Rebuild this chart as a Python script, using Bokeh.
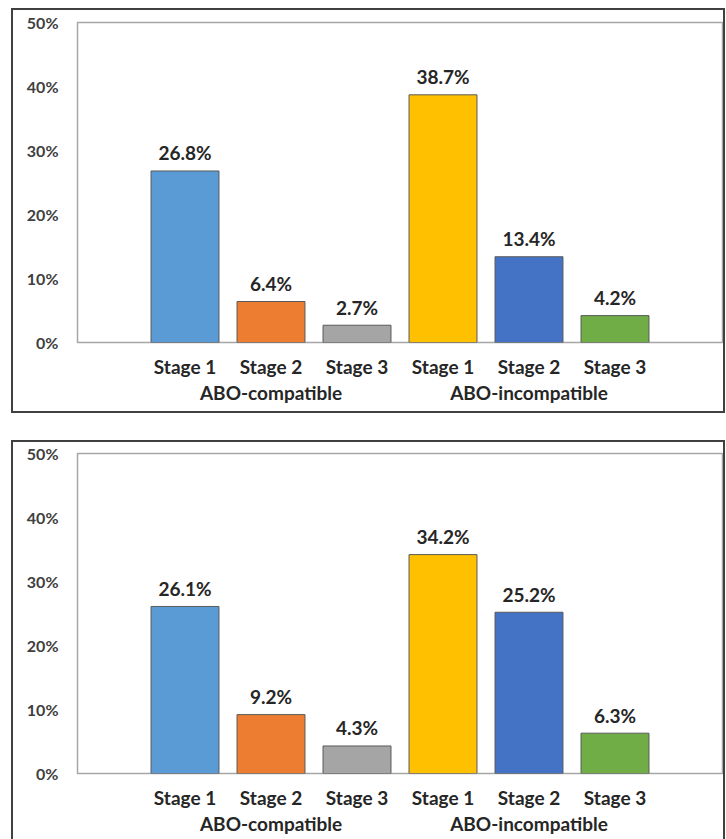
from bokeh.plotting import figure
from bokeh.models import (ColumnDataSource, FactorRange, Range1d, FixedTicker,
                          NumeralTickFormatter, CategoricalAxis, CategoricalScale,
                          CustomJSTickFormatter)
from bokeh.layouts import column
from bokeh.core.properties import value
from bokeh.embed import file_html
from bokeh.resources import INLINE

# Donor blood-group categories and stages
groups = ["ABO-compatible", "ABO-incompatible"]
stages = ["Stage 1", "Stage 2", "Stage 3"]

# Percentages per panel (compatible stages 1-3, then incompatible stages 1-3)
top_panel_pct = [26.8, 6.4, 2.7, 38.7, 13.4, 4.2]
bottom_panel_pct = [26.1, 9.2, 4.3, 34.2, 25.2, 6.3]

bar_colors = ["#5B9BD5", "#ED7D31", "#A5A5A5", "#FFC000", "#4472C4", "#70AD47"]

y_ticks = [0, 0.1, 0.2, 0.3, 0.4, 0.5]

FONT = "Lato"
TEXT = "#262626"

# one unique factor per (group, stage) pair; the axis shows only the stage
slot_ids = [f"{g}|{s}" for g in groups for s in stages]
n_stage = len(stages)
SIDE_PAD = 0.75  # empty space at each end of the category axis, in slots


def style_axis(ax, size, standoff, color=TEXT):
    ax.major_tick_line_color = None
    ax.minor_tick_line_color = None
    ax.major_tick_out = 0
    ax.major_tick_in = 0
    ax.minor_tick_out = 0
    ax.axis_line_color = None
    ax.major_label_standoff = standoff
    ax.major_label_text_font = FONT
    ax.major_label_text_font_style = "bold"
    ax.major_label_text_font_size = size
    ax.major_label_text_color = color


def make_panel(pct, width, height, top_border, bottom_border, border_css):
    src = ColumnDataSource(dict(
        x=slot_ids,
        top=[v / 100 for v in pct],
        label=[f"{v:.1f}%" for v in pct],
        color=bar_colors,
    ))
    p = figure(x_range=FactorRange(*slot_ids, range_padding=SIDE_PAD,
                                   range_padding_units="absolute"),
               y_range=Range1d(0, 0.5),
               width=width, height=height, output_backend="svg",
               toolbar_location=None,
               min_border_left=64, min_border_right=5,
               min_border_top=top_border, min_border_bottom=bottom_border,
               styles=border_css)
    p.vbar(x="x", top="top", width=0.79, source=src,
           fill_color="color", line_color="#595959", line_width=1)
    p.text(x="x", y="top", text="label", source=src,
           text_align="center", text_baseline="middle", y_offset=-18,
           text_font=value(FONT), text_font_style="bold",
           text_font_size="19px", text_color=TEXT)

    p.xgrid.visible = False
    p.ygrid.visible = False
    p.outline_line_color = "#A6A6A6"
    p.outline_line_width = 1.5

    ya = p.yaxis[0]
    ya.ticker = FixedTicker(ticks=y_ticks)
    ya.formatter = NumeralTickFormatter(format="0%")
    style_axis(ya, "16px", 19, "#404040")

    xa = p.xaxis[0]
    xa.formatter = CustomJSTickFormatter(code="return tick.split('|')[1];")
    style_axis(xa, "19px", 12)

    # group names centred under each block of stages
    p.extra_x_ranges = {"groups": FactorRange(*groups,
                                              range_padding=SIDE_PAD / n_stage,
                                              range_padding_units="absolute")}
    p.extra_x_scales = {"groups": CategoricalScale()}
    ga = CategoricalAxis(x_range_name="groups")
    style_axis(ga, "19px", 0)
    p.add_layout(ga, "below")
    return p


p1 = make_panel(top_panel_pct, 714, 405, 12, 73,
                {"border": "2px solid #404040"})
p1.margin = (8, 0, 0, 11)

p2 = make_panel(bottom_panel_pct, 714, 399, 11, 68,
                {"border-top": "2px solid #404040",
                 "border-left": "2px solid #404040",
                 "border-right": "2px solid #404040"})
p2.margin = (27, 0, 0, 11)

layout = column(p1, p2, spacing=0)

open("out.html", "w").write(file_html(layout, INLINE))
